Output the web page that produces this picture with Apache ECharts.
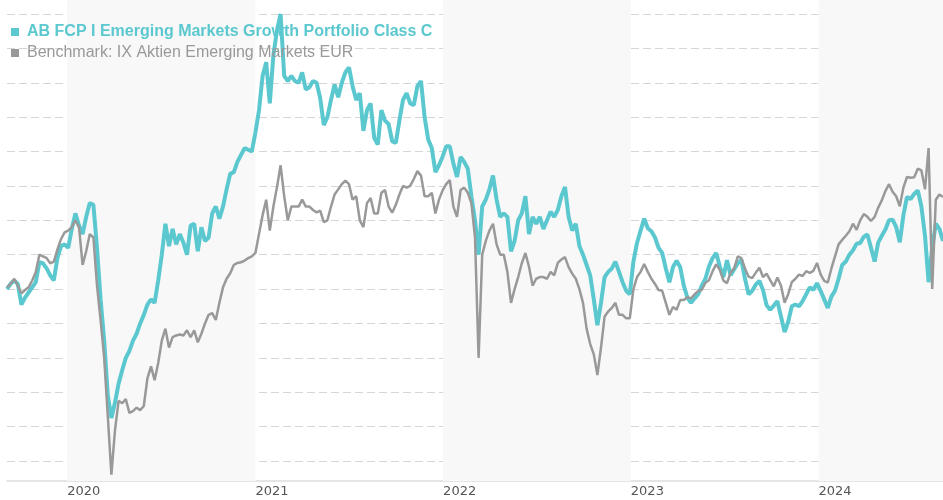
<!DOCTYPE html>
<html>
<head>
<meta charset="utf-8">
<script src="https://cdn.jsdelivr.net/npm/echarts@6/dist/echarts.min.js"></script>
<style>
  html, body { margin: 0; padding: 0; background: #fff; }
  #chart { width: 943px; height: 500px; }
</style>
</head>
<body>
<div id="chart"></div>
<script>
// weekly points, first one on startDate
const startDate = '2019-09-06'
const fundName = 'AB FCP I Emerging Markets Growth Portfolio Class C'
const benchName = 'Benchmark: IX Aktien Emerging Markets EUR'

const fundValues = [
  100, 101.5, 102.5, 101.5, 95.5, 97.5, 99, 100.5, 102, 107.8,
  107.5, 106, 104, 102.5, 109, 112.5, 113, 112, 117.5, 122,
  118.5, 116, 121, 125, 124.5, 112, 97, 85, 69, 62.5,
  67, 72.5, 76.4, 80, 82, 85, 87, 90, 92.5, 95.5,
  97, 96, 102.5, 110, 119, 112.5, 117.5, 113, 116, 113.5,
  110, 118.5, 119, 111, 118, 114, 115, 122, 124, 120.5,
  124, 129, 133.5, 134, 137, 139, 141, 140.5, 140, 145.5,
  152, 162, 166, 154, 168, 175.3, 180, 162, 160.5, 162,
  160.5, 160, 163, 158, 158.7, 160.5, 160, 155.5, 147.7, 150,
  155, 159.5, 155.8, 160, 163, 164.5, 159, 155, 157, 146,
  152, 154, 144, 142, 152, 149, 148, 143, 142.5, 149,
  155, 157, 154, 153.5, 159, 160.5, 150, 143.5, 141, 134,
  136, 138.5, 141.5, 141.5, 136.5, 132.6, 138.4, 137, 135, 127,
  120, 110, 124, 126, 129, 133, 126, 121, 122, 121,
  111, 114, 120, 122, 127, 116, 121, 119, 121, 117.5,
  120, 122.5, 121, 123, 127, 129.7, 121, 117, 119, 112.5,
  110, 107, 104, 97, 89.5, 96, 103.5, 105, 106, 108,
  105, 102, 99.5, 98.5, 108, 113.4, 117, 120.5, 117.7, 116.8,
  115, 112, 110.5, 106, 102, 106.4, 108.2, 106.4, 101, 97.5,
  96, 97.3, 98.5, 101, 103, 106.6, 109, 110.5, 106.6, 103.5,
  108.4, 104, 105.8, 107.5, 108.5, 103, 98.5, 99.5, 101.3, 102.4,
  99.7, 95.3, 94, 95.2, 96.5, 92, 87.5, 90.5, 95, 95.5,
  95, 96.5, 98.5, 100.5, 99.8, 101.7, 99.5, 97, 94.5, 97.8,
  99.5, 103, 107, 108, 110, 111.3, 113.2, 113.4, 115.2, 115.9,
  112, 108, 113.5, 115.5, 117.3, 120, 120.2, 118, 113.6, 121.5,
  126.8, 126.2, 127.7, 128.7, 124, 115.5, 102, 112, 119, 117.5,
  114
]

const benchValues = [
  100.5, 101.5, 103, 101, 98.8, 99.7, 100.5, 102.5, 105, 110,
  109.5, 109, 107.5, 108, 111.5, 114.5, 116.5, 117, 118, 120,
  118, 107, 111, 116, 115, 101, 91, 80, 63, 46,
  59, 67.5, 66.8, 68, 64, 64.5, 65.5, 64.8, 66, 74,
  77.5, 73.5, 78.5, 85, 88.5, 83, 86, 86.5, 86.8, 86.5,
  88, 86, 88, 84.5, 87, 90, 92.5, 93, 91, 96,
  100.5, 103, 104.6, 107, 107.6, 107.8, 108.3, 109, 109.5, 110.5,
  116, 121.5, 126, 117, 124, 129.7, 136, 127, 120, 124,
  124, 124, 126, 124, 124, 123, 122.3, 122.8, 119.5, 120,
  124, 127.5, 129, 130.5, 131.5, 130.5, 126, 127, 120, 118,
  125, 126.5, 122, 122, 128, 128.8, 124, 122.2, 124.5, 127.5,
  130, 129.5, 130, 132, 134.3, 133, 127, 127, 128, 122,
  126, 128.7, 130.5, 131.7, 124, 121, 128.8, 129.5, 128, 125,
  115, 80, 110, 114, 117, 119, 113, 110, 110, 105,
  96, 100, 103.5, 107.5, 110.5, 106.5, 101, 103, 103.5, 103.5,
  103, 105, 104, 107.6, 108.6, 109.3, 106.4, 104.5, 103, 100,
  96, 88.5, 84, 81, 75, 83, 92, 93.5, 94.5, 96,
  92.5, 92.5, 91.5, 91.5, 100, 103.5, 105, 107.3, 105, 103,
  101.5, 99.7, 99.5, 96, 92.5, 94.8, 94, 96.8, 96.8, 97.6,
  97.3, 98.5, 99.4, 99.8, 101.8, 102.6, 105.2, 107.2, 105.6, 102.5,
  101.7, 104.8, 106, 109.5, 109, 106, 103.6, 103.2, 104.8, 106.2,
  103.5, 104.5, 102.6, 100.8, 103.4, 101, 96, 98.5, 102, 103,
  104.2, 103.8, 105.2, 104.7, 105.3, 107.6, 104.3, 102.4, 101.9, 106,
  109.5, 113, 114.3, 115.5, 116.8, 119, 117.2, 120, 121.8, 121,
  119.8, 121, 123.7, 125.8, 128.5, 130.5, 128.3, 127, 124.1, 129.5,
  132.6, 132.4, 132.5, 135, 134.5, 129, 141, 100, 126, 127.5,
  126.8
]

// shaded years
const shadedYears = [
  ['2020-01-01', '2021-01-01'],
  ['2022-01-01', '2023-01-01'],
  ['2024-01-01', '2024-08-30']
]

const toTime = d => +new Date(d + 'T00:00:00')
const WEEK = 7 * 24 * 3600 * 1000
const t0 = toTime(startDate)
const weekDates = fundValues.map((_, i) => t0 + i * WEEK)
const fundData = fundValues.map((v, i) => [weekDates[i], v])
const benchData = benchValues.map((v, i) => [weekDates[i], v])

const myChart = echarts.init(document.getElementById('chart'))
const option = {
  animation: false,
  backgroundColor: '#fff',
  grid: { left: 7, right: 0, top: 0, bottom: 19 },
  legend: {
    orient: 'vertical',
    left: 11,
    top: 24,
    padding: 0,
    icon: 'rect',
    itemWidth: 8,
    itemHeight: 8,
    itemGap: 5,
    textStyle: { fontFamily: 'Liberation Sans, Arial', fontSize: 16, lineHeight: 16, padding: [0, 0, 0, 3] },
    data: [
      { name: fundName, textStyle: { color: '#5bc8cf', fontWeight: 'bold' } },
      { name: benchName, textStyle: { color: '#999999' } }
    ]
  },
  xAxis: {
    type: 'time',
    min: t0,
    max: weekDates[weekDates.length - 1],
    axisLine: { lineStyle: { color: '#dddddd', width: 1.5 } },
    axisTick: { show: false },
    splitLine: { show: false },
    axisLabel: {
      interval: 0,
      hideOverlap: false,
      // 只显示年份
      formatter: function (v) {
        const d = new Date(v)
        return d.getMonth() === 0 && d.getDate() === 1 ? String(d.getFullYear()) : ''
      },
      align: 'left',
      margin: 4,
      color: '#555',
      fontFamily: 'DejaVu Sans',
      fontSize: 13
    }
  },
  yAxis: {
    type: 'value',
    min: 44.18,
    max: 184.07,
    minInterval: 10,
    maxInterval: 10,
    axisLine: { show: false },
    axisTick: { show: false },
    axisLabel: { show: false },
    splitLine: {
      showMinLine: false,
      showMaxLine: false,
      lineStyle: { color: '#d6d6d6', type: [8, 4], width: 1 }
    }
  },
  series: [
    {
      name: fundName,
      type: 'line',
      data: fundData,
      showSymbol: false,
      color: '#5bc8cf',
      lineStyle: { color: '#5bc8cf', width: 4 },
      markArea: {
        silent: true,
        itemStyle: { color: '#f8f8f8' },
        data: shadedYears.map(r => [{ xAxis: toTime(r[0]) }, { xAxis: toTime(r[1]) }])
      },
      z: 2
    },
    {
      name: benchName,
      type: 'line',
      data: benchData,
      showSymbol: false,
      color: '#999999',
      lineStyle: { color: '#999999', width: 2.5 },
      z: 3
    }
  ]
}
myChart.setOption(option)
window.addEventListener('resize', function () {
  myChart.resize()
})
</script>
</body>
</html>
